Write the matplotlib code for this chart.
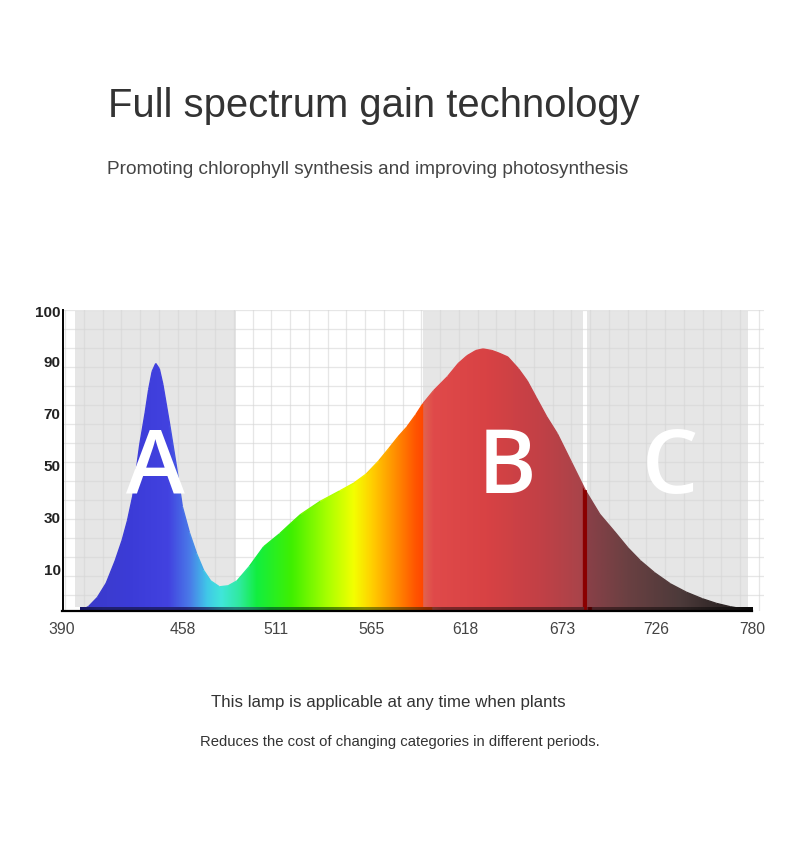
import numpy as np
import matplotlib
matplotlib.use("Agg")
import matplotlib.pyplot as plt
from matplotlib.colors import LinearSegmentedColormap, to_rgb
from matplotlib.patches import Polygon, Rectangle
from matplotlib.collections import LineCollection

# spectrum (wavelength nm, relative intensity on the chart's scale)
wavelength = [390, 400, 405, 410, 415, 420, 424, 427, 430, 434, 437, 439, 441, 443, 445, 447,
              451, 455, 458, 462, 466, 470, 474, 479, 484, 489, 496, 504, 513, 519, 525, 536,
              547, 555, 562, 569, 575, 580, 585, 590, 594, 600, 608, 614, 619, 624, 628, 633,
              637, 642, 648, 653, 658, 664, 670, 678, 686, 694, 702, 710, 717, 725, 734, 743,
              752, 760, 768, 777, 780]
intensity = [-6.2, -6.2, -4.5, -1, 4.5, 13, 21, 28.5, 38, 58, 70, 79, 86, 89, 87, 81,
             65, 48, 34, 24, 16, 9.5, 5.4, 3.1, 3.5, 5.4, 11, 18.5, 23.5, 27.3, 31, 36,
             40, 43, 46.5, 51.5, 56.5, 60.8, 64.6, 69.3, 73.5, 78.5, 84, 89, 92, 94, 94.6, 94,
             93, 91.5, 87, 82.3, 76, 68.5, 62, 51, 40, 31, 24.6, 18, 13.1, 8.5, 4.2, 1,
             -1.5, -3.3, -4.6, -5.6, -6.2]

xtick_values = [390, 458, 511, 565, 618, 673, 726, 780]
ytick_labels = ["10", "30", "50", "70", "90", "100"]
ytick_pos = [10, 30, 50, 70, 90, 109.6]

bands = [(397.3, 488.4, "A", 442.6), (594.1, 684.5, "B", 641.6), (686.8, 777.8, "C", 733.7)]

# colour stops along the wavelength axis
color_stops = [(390, "#2a2ab8"), (400, "#3a3ac8"), (430, "#3c3cd8"), (450, "#4242e0"),
               (462, "#4a7ae8"), (472, "#40c8e8"), (480, "#40e6da"), (490, "#30eaa0"),
               (500, "#12ee40"), (520, "#40f000"), (540, "#a8ff00"), (555, "#f4ff00"),
               (565, "#ffd000"), (578, "#ff9000"), (590, "#ff5400"), (594.0, "#ff4800"),
               (594.2, "#e06450"), (600, "#e04a4a"), (630, "#d84244"), (660, "#c24046"),
               (684.4, "#a8444a"), (684.6, "#8b0000"), (686.6, "#8b0000"), (686.8, "#8a4048"),
               (710, "#6a4042"), (740, "#4c3a3a"), (770, "#262020"), (780, "#101010")]

YMIN, YMAX = -6.2, 109.6
XMIN, XMAX = 390, 787

fig = plt.figure(figsize=(7.9, 8.53), dpi=100)
ax = fig.add_axes([62 / 790, 241 / 853, 702.3 / 790, 301 / 853])
ax.set_xlim(XMIN, XMAX)
ax.set_ylim(YMIN, YMAX)

# grey bands
for x0, x1, _, _ in bands:
    ax.add_patch(Rectangle((x0, -4.6), x1 - x0, 109.2 + 4.6, facecolor="#e6e6e6",
                           edgecolor="none", zorder=0))

# grid
for gx in np.arange(391.8, 787, 10.6):
    ax.axvline(gx, color="#d6d6d6", lw=0.9, alpha=0.6, zorder=1)
for gy in np.arange(YMAX, YMIN, -7.3):
    ax.axhline(gy, color="#d6d6d6", lw=0.9, alpha=0.6, zorder=1)

# gradient fill under the curve
pos = [(w - 390) / 390 for w, _ in color_stops]
cmap = LinearSegmentedColormap.from_list("spec", list(zip(pos, [c for _, c in color_stops])), N=1024)
grad = np.linspace(0, 1, 1024).reshape(1, -1)
im = ax.imshow(grad, extent=[390, 780, YMIN, YMAX], aspect="auto", cmap=cmap,
               origin="lower", zorder=2, interpolation="bilinear")
verts = list(zip(wavelength, intensity)) + [(780, YMIN), (390, YMIN)]
poly = Polygon(verts, closed=True, facecolor="none", edgecolor="none")
ax.add_patch(poly)
im.set_clip_path(poly)

# soften the clipped edge with a thin line in the same colours
pts = np.column_stack([wavelength, intensity])
segs = np.stack([pts[:-1], pts[1:]], axis=1)
mids = [(a + b) / 2 for a, b in zip(wavelength[:-1], wavelength[1:])]
lc = LineCollection(segs, colors=[cmap((m - 390) / 390) for m in mids], lw=1.0, zorder=2.5)
ax.add_collection(lc)

# dark strip along the bottom
dark = LinearSegmentedColormap.from_list(
    "dark", list(zip(pos, [tuple(0.55 * v for v in to_rgb(c)) for _, c in color_stops])), N=1024)
ax.imshow(grad, extent=[400, 780, YMIN, YMIN + 1.5], aspect="auto", cmap=dark,
          origin="lower", zorder=3, interpolation="bilinear")

# separator line between B and C
i = wavelength.index(686)
ax.plot([685.6, 685.6], [YMIN, intensity[i]], color="#8b0000", lw=2, zorder=3)

# axes lines
ax.plot([390, 780], [YMIN, YMIN], color="black", lw=1.6, zorder=4, clip_on=False)
ax.plot([390.6, 390.6], [YMIN, YMAX], color="black", lw=1.4, zorder=4, clip_on=False)

# big letters
for _, _, letter, cx in bands:
    ax.text(cx, 48.5, letter, color="white", fontsize=64, family="Open Sans",
            fontweight="semibold", ha="center", va="center", zorder=5)

for s in ax.spines.values():
    s.set_visible(False)
ax.set_xticks(xtick_values)
ax.set_xticklabels([str(v) for v in xtick_values], fontsize=11.3, color="#444444",
                   family="Liberation Sans")
ax.set_yticks(ytick_pos)
ax.set_yticklabels(ytick_labels, fontsize=11, color="#222222", fontweight="bold",
                   family="Liberation Sans")
ax.tick_params(axis="both", length=0)
ax.tick_params(axis="x", pad=7)
ax.tick_params(axis="y", pad=1)

# texts
fig.text(374 / 790, 1 - 117 / 853, "Full spectrum gain technology", fontsize=28.8,
         color="#333333", family="Liberation Sans", ha="center", va="baseline")
fig.text(107 / 790, 1 - 174 / 853, "Promoting chlorophyll synthesis and improving photosynthesis",
         fontsize=13.7, color="#444444", family="Liberation Sans", ha="left", va="baseline")
fig.text(388 / 790, 1 - 707 / 853, "This lamp is applicable at any time when plants",
         fontsize=12.2, color="#333333", family="Liberation Sans", ha="center", va="baseline")
fig.text(400 / 790, 1 - 746 / 853, "Reduces the cost of changing categories in different periods.",
         fontsize=10.75, color="#333333", family="Liberation Sans", ha="center", va="baseline")

fig.savefig("out.png", dpi=100)
